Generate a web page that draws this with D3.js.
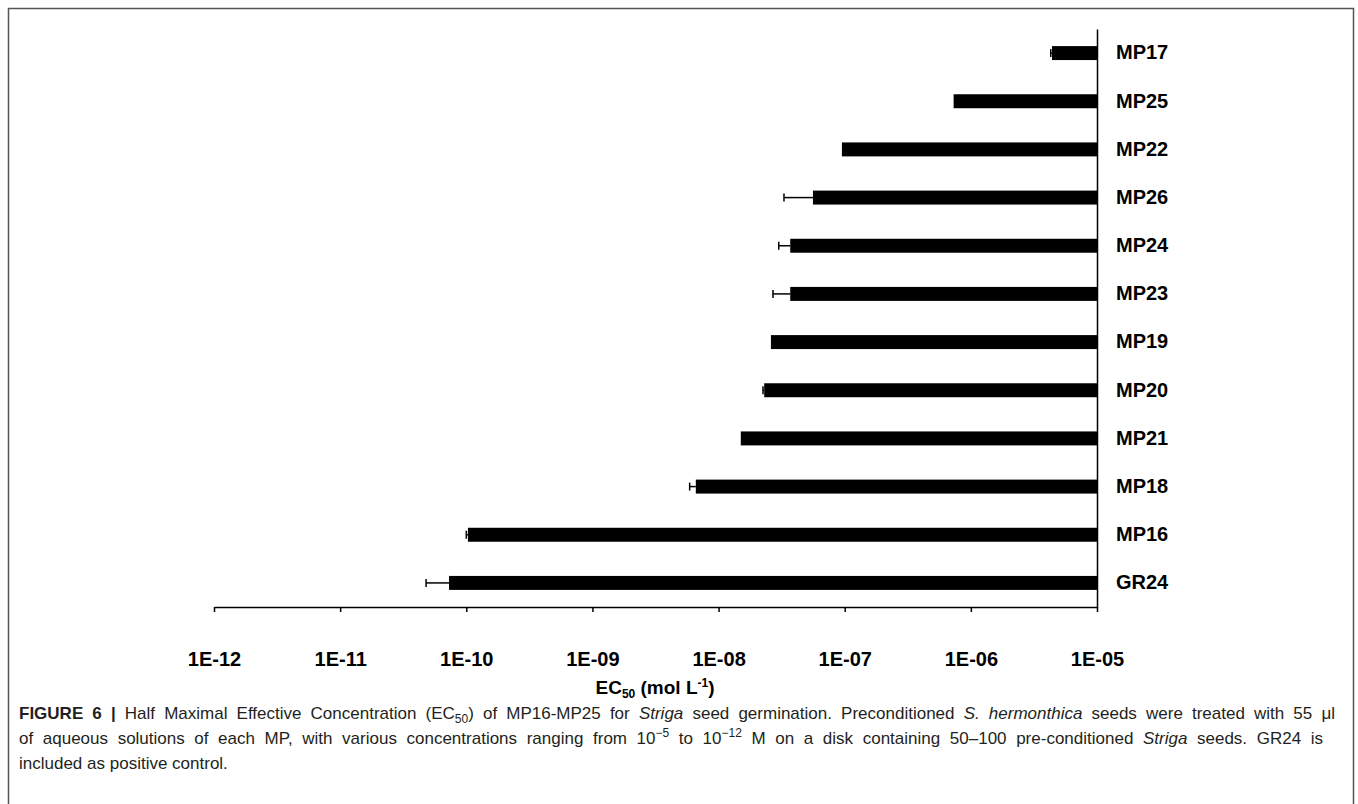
<!DOCTYPE html>
<html>
<head>
<meta charset="utf-8">
<script src="https://cdn.jsdelivr.net/npm/d3@7"></script>
<style>
  html, body { margin: 0; padding: 0; background: #fff; }
  svg { display: block; }
</style>
</head>
<body>
<svg id="chart" width="1358" height="804"></svg>
<script>
// ---- data ----
const categories = ["MP17","MP25","MP22","MP26","MP24","MP23","MP19","MP20","MP21","MP18","MP16","GR24"];
const ec50Values = [4.4e-6, 7.3e-7, 9.5e-8, 5.6e-8, 3.7e-8, 3.7e-8, 2.6e-8, 2.3e-8, 1.5e-8, 6.6e-9, 1.03e-10, 7.3e-11];
const ec50Errors = [1.0e-7, 0, 0, 2.3e-8, 0.7e-8, 1.0e-8, 0, 0.05e-8, 0, 0.7e-9, 0.03e-10, 2.5e-11];
const tickValues = [1e-12, 1e-11, 1e-10, 1e-9, 1e-8, 1e-7, 1e-6, 1e-5];
const tickLabels = ["1E-12","1E-11","1E-10","1E-09","1E-08","1E-07","1E-06","1E-05"];

const svg = d3.select("#chart");

// frame
svg.append("rect").attr("x", 8.5).attr("y", 8.5).attr("width", 1345).attr("height", 820)
  .attr("fill", "none").attr("stroke", "#555").attr("stroke-width", 1.5);

const x = d3.scaleLog().domain([1e-12, 1e-5]).range([214, 1097]);
const y = d3.scaleBand().domain(categories).range([29, 607]).paddingInner(0.71).paddingOuter(0.355);

const g = svg.append("g");

// bars
g.selectAll("rect.bar").data(categories).join("rect")
  .attr("class", "bar")
  .attr("x", (d, i) => x(ec50Values[i]))
  .attr("width", (d, i) => x(1e-5) - x(ec50Values[i]))
  .attr("y", d => y(d))
  .attr("height", y.bandwidth())
  .attr("fill", "#000");

// error bars (lower side)
const errIdx = categories.map((d, i) => i).filter(i => ec50Errors[i] > 0);
const eb = g.selectAll("g.err").data(errIdx).join("g").attr("class", "err");
eb.append("line")
  .attr("x1", i => x(ec50Values[i])).attr("x2", i => x(ec50Values[i] - ec50Errors[i]))
  .attr("y1", i => y(categories[i]) + y.bandwidth() / 2).attr("y2", i => y(categories[i]) + y.bandwidth() / 2)
  .attr("stroke", "#000").attr("stroke-width", 1.5);
eb.append("line")
  .attr("x1", i => x(ec50Values[i] - ec50Errors[i])).attr("x2", i => x(ec50Values[i] - ec50Errors[i]))
  .attr("y1", i => y(categories[i]) + y.bandwidth() / 2 - 4).attr("y2", i => y(categories[i]) + y.bandwidth() / 2 + 4)
  .attr("stroke", "#000").attr("stroke-width", 1.5);

// x axis
const xAxis = d3.axisBottom(x).tickValues(tickValues)
  .tickFormat((d, i) => tickLabels[i]).tickSize(5).tickSizeOuter(0).tickPadding(40);
const xg = svg.append("g").attr("transform", "translate(0,607)").call(xAxis);
xg.select(".domain").attr("stroke", "#000").attr("stroke-width", 1.5);
xg.selectAll(".tick line").attr("stroke", "#000").attr("stroke-width", 1.5);
xg.selectAll(".tick text").attr("fill", "#000")
  .style("font-family", "'Liberation Sans', Arial, sans-serif")
  .style("font-weight", "bold").style("font-size", "20px");

// y axis (right side, labels outside)
const yAxis = d3.axisRight(y).tickSize(0).tickPadding(19);
const yg = svg.append("g").attr("transform", "translate(1097,0)").call(yAxis);
yg.select(".domain").attr("stroke", "#000").attr("stroke-width", 1.5);
yg.selectAll(".tick text").attr("fill", "#000")
  .style("font-family", "'Liberation Sans', Arial, sans-serif")
  .style("font-weight", "bold").style("font-size", "20px");

// x axis title
const title = svg.append("text").attr("x", 655).attr("y", 694).attr("text-anchor", "middle")
  .style("font-family", "'Liberation Sans', Arial, sans-serif")
  .style("font-weight", "bold").style("font-size", "19px").attr("fill", "#000");
title.append("tspan").text("EC");
title.append("tspan").text("50").attr("dy", 4).style("font-size", "12px");
title.append("tspan").text(" (mol L").attr("dy", -4);
title.append("tspan").text("-1").attr("dy", -7).style("font-size", "12px");
title.append("tspan").text(")").attr("dy", 7);

// caption
const capFont = "'Liberation Sans', Arial, sans-serif";
const capColor = "#231f20";
function capLine(yPos, parts, target) {
  const t = svg.append("text").attr("x", 19).attr("y", yPos)
    .style("font-family", capFont).style("font-size", "17px").attr("fill", capColor);
  parts.forEach(p => {
    const s = t.append("tspan").text(p.t);
    if (p.b) s.style("font-weight", "bold");
    if (p.i) s.style("font-style", "italic");
    if (p.sub) s.attr("dy", 4).style("font-size", "12px");
    if (p.sup) s.attr("dy", -7).style("font-size", "12px");
    if (p.dy) s.attr("dy", p.dy);
  });
  if (target) {
    const w = t.node().getComputedTextLength();
    const full = parts.map(p => p.t).join("");
    const spaces = (full.match(/ /g) || []).length;
    if (spaces > 0 && target > w) t.style("word-spacing", ((target - w) / spaces) + "px");
  }
  return t;
}
capLine(719, [
  {t: "FIGURE 6 | ", b: true},
  {t: "Half Maximal Effective Concentration (EC"},
  {t: "50", sub: true},
  {t: ") of MP16-MP25 for ", dy: -4},
  {t: "Striga", i: true},
  {t: " seed germination. Preconditioned "},
  {t: "S. hermonthica", i: true},
  {t: " seeds were treated with 55 \u03bcl"}
], 1316);
capLine(744, [
  {t: "of aqueous solutions of each MP, with various concentrations ranging from 10"},
  {t: "\u22125", sup: true},
  {t: " to 10", dy: 7},
  {t: "\u221212", sup: true},
  {t: " M on a disk containing 50\u2013100 pre-conditioned ", dy: 7},
  {t: "Striga", i: true},
  {t: " seeds. GR24 is"}
], 1304);
capLine(769, [{t: "included as positive control."}]);
</script>
</body>
</html>
